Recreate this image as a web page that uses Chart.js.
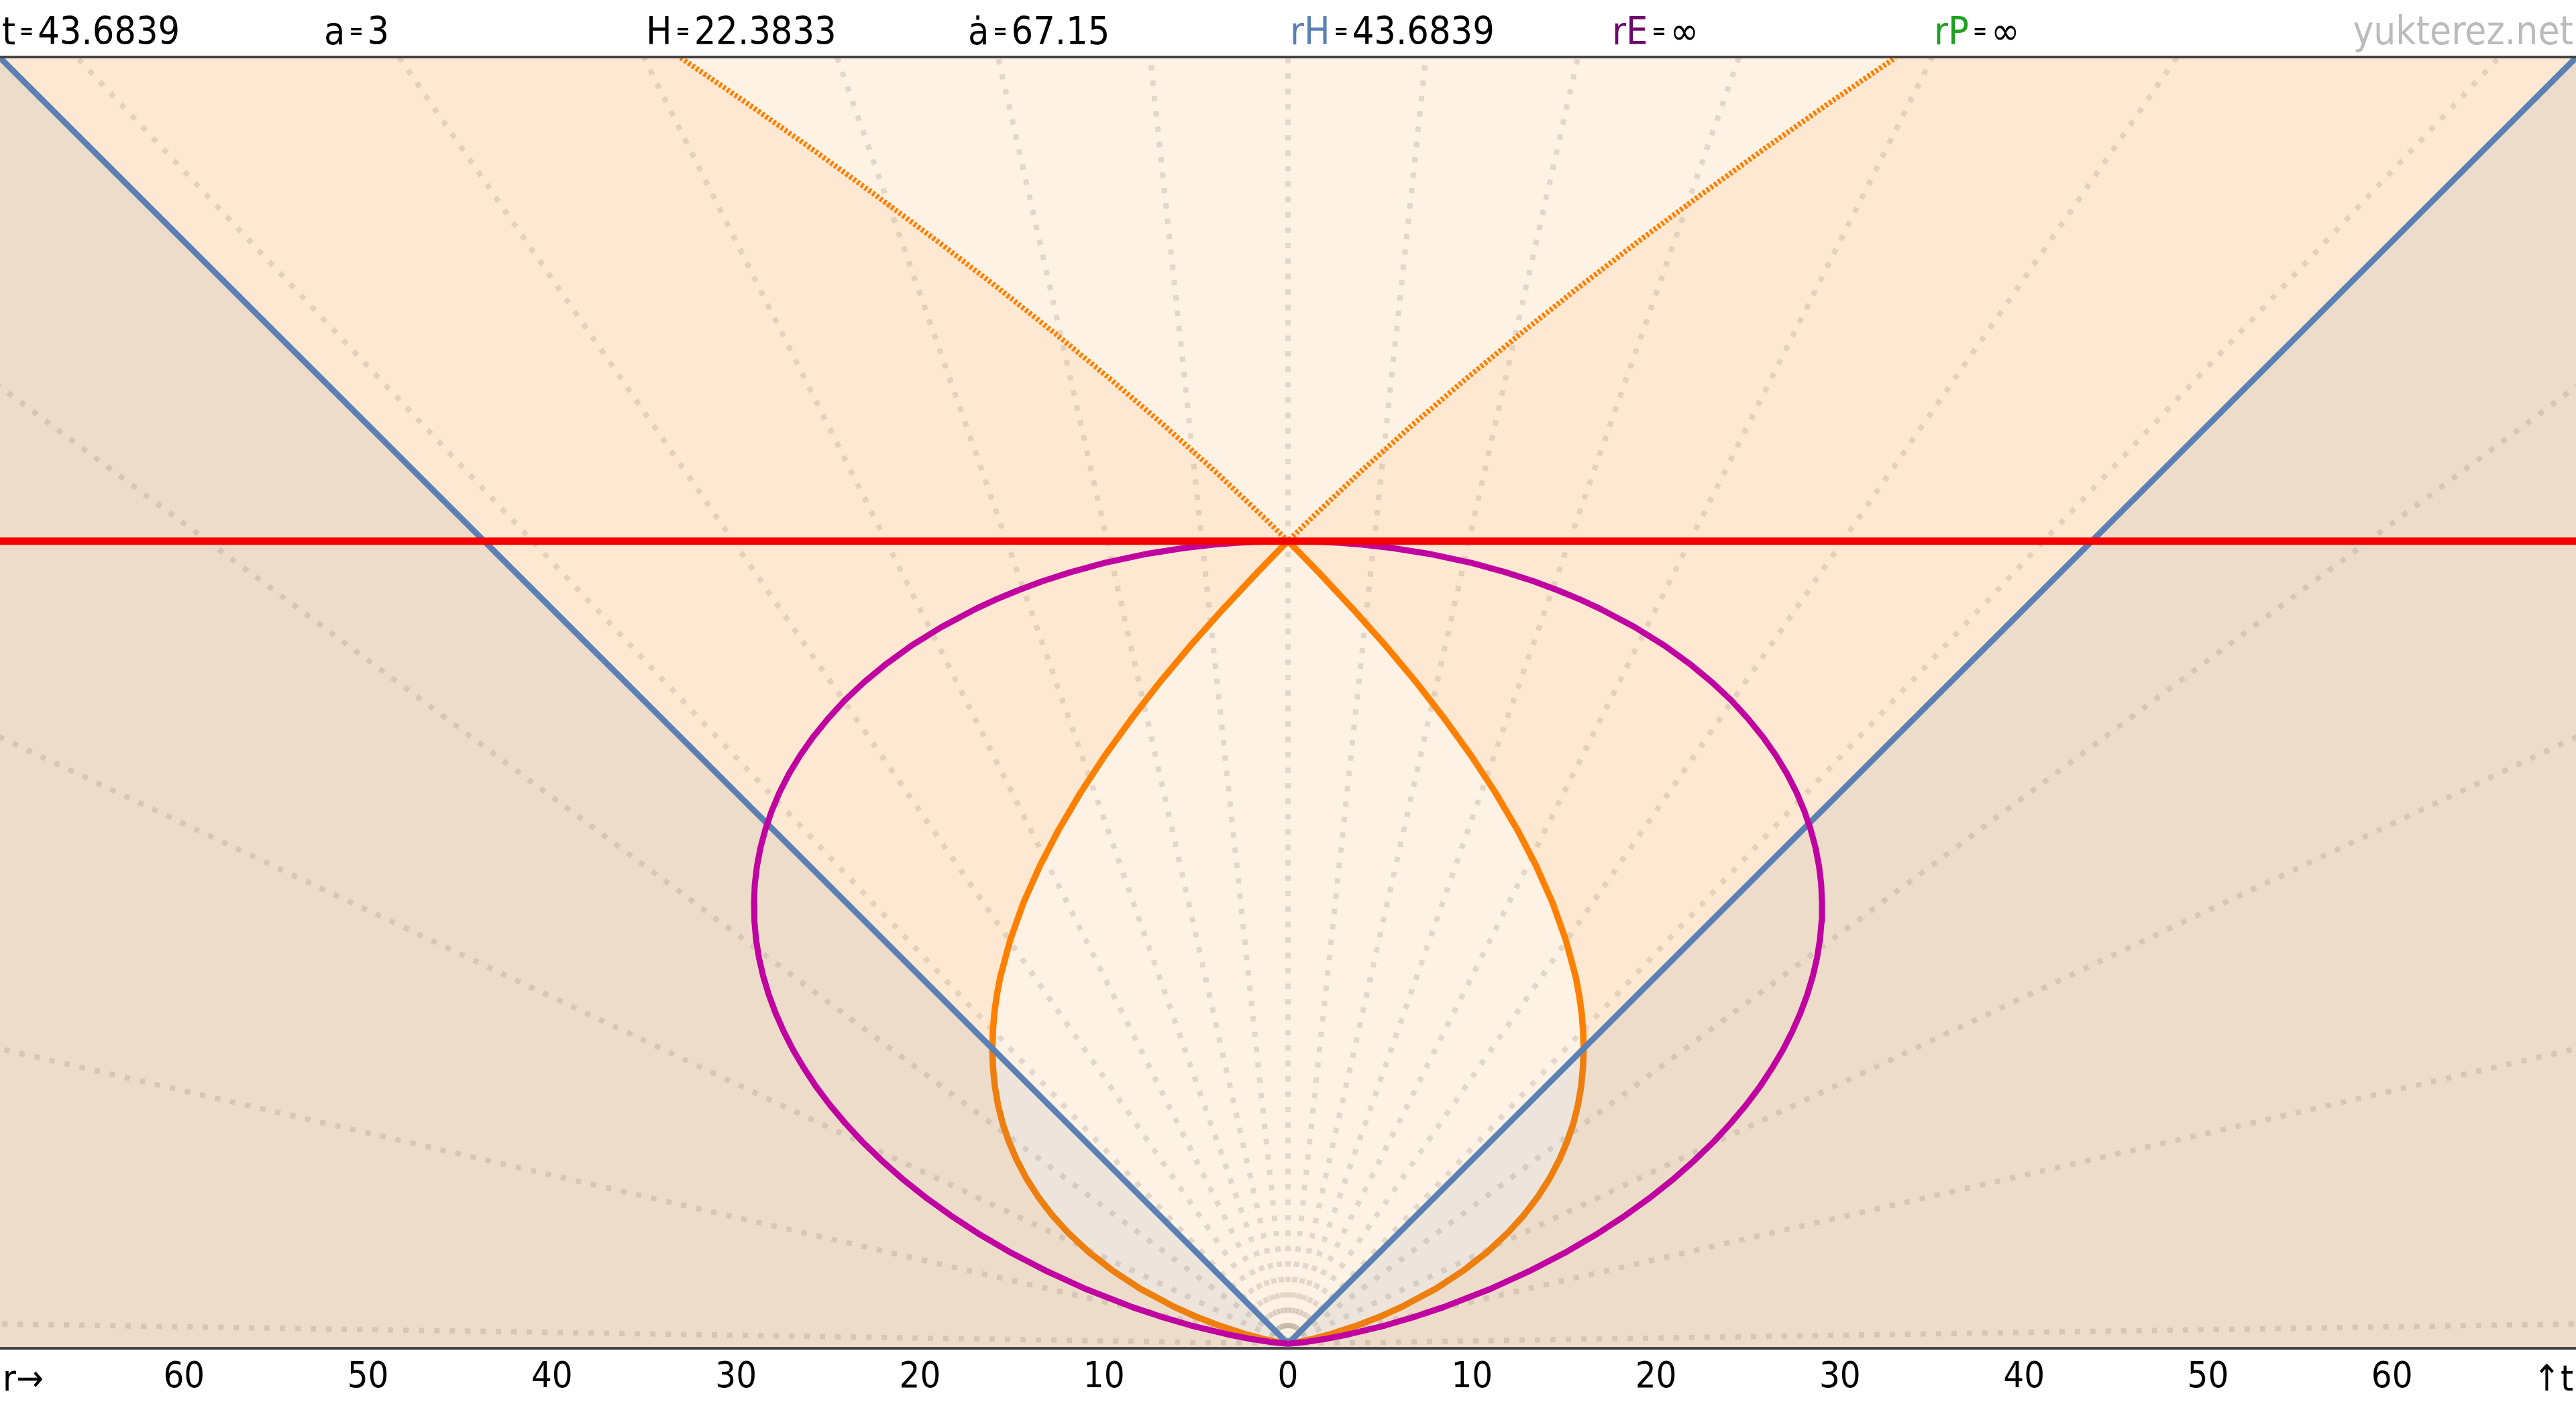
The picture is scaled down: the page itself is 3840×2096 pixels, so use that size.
<!DOCTYPE html>
<html><head><meta charset="utf-8">
<script src="https://cdn.jsdelivr.net/npm/chart.js@4.4.1/dist/chart.umd.min.js"></script>
<style>html,body{margin:0;padding:0;background:#fff;overflow:hidden}#wrap{width:3840px;height:2096px}</style>
</head><body><div id="wrap"><canvas id="c" width="3840" height="2096"></canvas></div>
<script>
// ---- data ----
const T_NOW = 43.6839;
const xTickValues = [-60,-50,-40,-30,-20,-10,0,10,20,30,40,50,60];
const hubbleR = [-70, 0, 70];
const hubbleT = [70, 0, 70];
const pastConeT = [0,0.1,0.25,0.5,1,1.5,2,3,4,5,6,7,8,9,10,11,12,13,14,15,16,17,18,19,20,22,24,26,28,30,32,34,36,38,40,42,43,43.6839];
const pastConeR = [0,0.61,1.29,2.24,3.78,5.06,6.17,8.04,9.56,10.84,11.91,12.82,13.58,14.22,14.74,15.17,15.51,15.76,15.93,16.03,16.07,16.04,15.96,15.82,15.63,15.09,14.38,13.49,12.45,11.27,9.96,8.52,6.97,5.30,3.52,1.65,0.68,0];
const futureConeT = [43.6839,45,47.5,50,52.5,55,57.5,60,62.5,65,67.5,70];
const futureConeR = [0,1.34,3.98,6.75,9.65,12.67,15.80,19.04,22.39,25.83,29.37,33.01];
const purpleT = [0,0.1,0.25,0.5,1,1.5,2,3,4,5,6,7,8,9,10,11,12,13,14,15,16,17,18,19,20,21,22,23,24,25,26,27,28,29,30,31,32,33,34,35,36,37,38,39,40,40.5,41,41.5,42,42.5,43,43.3,43.5,43.6,43.65,43.6839];
const purpleR = [0,1.01,1.97,3.25,5.30,6.99,8.48,11.04,13.22,15.14,16.84,18.36,19.74,20.99,22.11,23.14,24.06,24.90,25.65,26.31,26.90,27.41,27.85,28.22,28.52,28.75,28.91,29.00,29.02,28.98,28.86,28.67,28.40,28.06,27.64,27.13,26.53,25.83,25.02,24.11,23.05,21.84,20.46,18.85,16.97,15.89,14.69,13.35,11.80,9.97,7.63,5.73,3.98,2.69,1.71,0];
const comovingV = [0,0.107,0.225,0.35,0.50,0.69,0.94,1.344,2.12,4.36,65];
const headerLabels = ['t','a','H','ȧ','rH','rE','rP'];
const headerValues = ['43.6839','3','22.3833','67.15','43.6839','∞','∞'];
const headerLabelColors = ['#000','#000','#000','#000','#5b80b4','#6a0a6a','#20a020'];

// ---- helpers ----
const FONT = '"DejaVu Sans Condensed", "Liberation Sans Narrow", "DejaVu Sans", sans-serif';
function pts(R, T, sign){ return T.map((t,i)=>({x: sign*R[i], y: t})); }
function loop(R, T){ return pts(R,T,1).concat(pts(R,T,-1).reverse()); }
function vShape(R, T){ return pts(R,T,-1).reverse().concat(pts(R,T,1).slice(1)); }

const BLUE='rgb(91,128,180)', ORANGE='rgb(255,128,0)', PURPLE='rgb(192,0,160)', RED='rgb(245,0,0)';

const datasets = [];
// future light cone fill
datasets.push({data: vShape(futureConeR,futureConeT), showLine:true, pointRadius:0, borderWidth:0,
  fill:'end', backgroundColor:'rgba(255,255,255,0.42)', order:100});
// past light cone fill
datasets.push({data: loop(pastConeR,pastConeT), showLine:true, pointRadius:0, borderWidth:0,
  fill:'shape', backgroundColor:'rgba(255,255,255,0.42)', order:99});
// comoving worldlines
comovingV.forEach((v)=>{
  [1,-1].forEach(s=>{
    if (v===0 && s<0) return;
    const tEnd = Math.min(72, 72/v);
    datasets.push({data:[{x:0,y:0},{x:s*v*tEnd,y:tEnd}], showLine:true, pointRadius:0,
      borderColor:'rgba(150,136,124,0.25)', borderWidth:8, borderDash:[8,15], borderCapStyle:'butt', fill:false, order:90});
  });
});
// past light cone line
datasets.push({data: loop(pastConeR,pastConeT), showLine:true, pointRadius:0, borderColor:ORANGE, borderWidth:9.5, borderJoinStyle:'round', fill:false, order:80});
// future light cone dotted
datasets.push({data: vShape(futureConeR,futureConeT), showLine:true, pointRadius:0, borderColor:ORANGE, borderWidth:8, borderDash:[4,3], fill:false, order:79});
// Hubble sphere with outside shading
datasets.push({data: pts(hubbleR,hubbleT,1), showLine:true, pointRadius:0, borderColor:BLUE, borderWidth:9,
  fill:'start', backgroundColor:'rgba(85,115,150,0.1)', order:70});
// purple curve
datasets.push({data: loop(purpleR,purpleT), showLine:true, pointRadius:0, borderColor:PURPLE, borderWidth:9, borderJoinStyle:'round', fill:false, order:60});
// now line
datasets.push({data:[{x:-70,y:T_NOW},{x:70,y:T_NOW}], showLine:true, pointRadius:0, borderColor:RED, borderWidth:11, fill:false, order:50});

const bgPlugin = {
  id:'bg',
  beforeDraw(chart){
    const {ctx, chartArea:a} = chart;
    ctx.save(); ctx.fillStyle='#fff'; ctx.fillRect(0,0,chart.width,chart.height);
    ctx.fillStyle='rgb(254,232,209)'; ctx.fillRect(a.left,a.top,a.right-a.left,a.bottom-a.top); ctx.restore();
  },
  afterDraw(chart){
    const {ctx, chartArea:a} = chart;
    ctx.save();
    ctx.strokeStyle='#444'; ctx.lineWidth=4;
    ctx.beginPath(); ctx.moveTo(0,a.top-1); ctx.lineTo(chart.width,a.top-1); ctx.stroke();
    // header
    ctx.textBaseline='alphabetic';
    headerLabels.forEach((lab,i)=>{
      let x = 3 + i*480;
      ctx.font = '57px '+FONT; ctx.fillStyle = headerLabelColors[i];
      ctx.fillText(lab, x, 66);
      x += ctx.measureText(lab).width + 6;
      ctx.font = 'bold 28px '+FONT; ctx.fillStyle = '#000';
      ctx.fillText('=', x, 56);
      x += ctx.measureText('=').width + 6;
      ctx.font = '57px '+FONT;
      ctx.fillText(headerValues[i], x, 66);
    });
    ctx.font = '58px '+FONT; ctx.fillStyle='#bbb'; ctx.textAlign='right';
    ctx.fillText('yukterez.net', 3836, 66);
    // axis end labels
    ctx.font = '54px '+FONT; ctx.fillStyle='#000';
    ctx.textAlign='left'; ctx.fillText('r→', 4, 2073);
    ctx.textAlign='right'; ctx.fillText('↑t', 3836, 2073);
    ctx.restore();
  }
};

new Chart(document.getElementById('c'), {
  type:'scatter',
  data:{datasets},
  options:{
    responsive:false, animation:false, devicePixelRatio:1,
    layout:{padding:{top:86,left:0,right:0,bottom:0}},
    plugins:{legend:{display:false}, tooltip:{enabled:false}},
    elements:{line:{tension:0}},
    scales:{
      x:{type:'linear', min:-70, max:70,
        grid:{display:false, drawTicks:false},
        border:{display:true, color:'#444', width:4},
        afterBuildTicks(scale){ scale.ticks = xTickValues.map(v=>({value:v})); },
        afterFit(scale){ scale.height = 86; },
        ticks:{autoSkip:false, maxRotation:0, padding:12, color:'#000', font:{size:54, family:FONT},
          callback:(v)=>String(Math.abs(v))}
      },
      y:{type:'linear', min:-0.25, max:70, display:false}
    }
  },
  plugins:[bgPlugin]
});
</script></body></html>
